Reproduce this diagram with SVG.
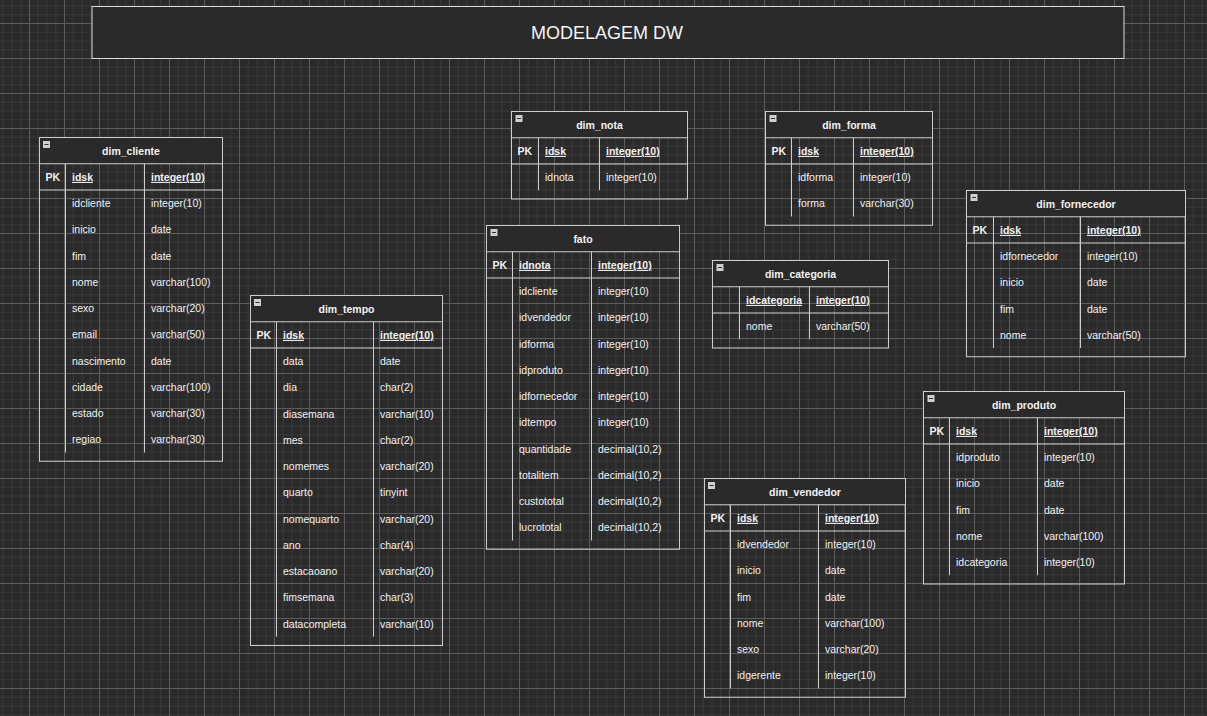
<svg xmlns="http://www.w3.org/2000/svg" width="1207" height="716" viewBox="0 0 1207 716">
<defs>
<pattern id="grid" patternUnits="userSpaceOnUse" x="29" y="23" width="35" height="35">
<rect width="35" height="35" fill="#2a2a2a"/>
<path d="M9.25 0V35M18 0V35M26.75 0V35M0 9.25H35M0 18H35M0 26.75H35" stroke="#383838" stroke-width="1" fill="none"/>
<path d="M0.5 0V35M0 0.5H35" stroke="#5c5c5c" stroke-width="1" fill="none"/>
</pattern>
<g id="ic"><rect x="0" y="0" width="7" height="7" fill="#d0d0d0"/><path d="M1.5 3.5H5.5" stroke="#333" stroke-width="1"/></g>
</defs>
<style>
.box{fill:none;stroke:#cdcdcd;stroke-width:1}
.ln{stroke:#cdcdcd;stroke-width:1;fill:none}
.hd{fill:#2a2a2a}
.t{font-family:"Liberation Sans",Arial,sans-serif;font-size:10.5px;fill:#f2f2f2}
.b{font-weight:bold}
.u{text-decoration:underline}
.ttl{font-weight:bold;text-anchor:middle}
.title{font-family:"Liberation Sans",Arial,sans-serif;font-size:18px;fill:#f4f4f4;text-anchor:middle}
</style>
<rect width="1207" height="716" fill="url(#grid)"/>

<g id="title">
<rect x="92" y="6.5" width="1032" height="52" fill="#2a2a2a" stroke="#dcdcdc" stroke-width="1"/>
<text class="title" x="607" y="38.5">MODELAGEM DW</text>
</g>

<g id="connectors"/>

<g id="dim_cliente">
<rect class="hd" x="39.5" y="137.5" width="183" height="26.25"/>
<rect class="box" x="39.5" y="137.5" width="183" height="323.75"/>
<path class="ln" d="M39.5 163.75H222.5M39.5 190H222.5M65.5 163.75V452.5M144.5 163.75V452.5"/>
<use href="#ic" x="43" y="141"/>
<text class="t ttl" x="131" y="154.6">dim_cliente</text>
<text class="t b" x="45.5" y="180.9">PK</text>
<text class="t b u" x="72" y="180.9">idsk</text>
<text class="t b u" x="151" y="180.9">integer(10)</text>
<text class="t" x="72" y="207">idcliente</text><text class="t" x="151" y="207">integer(10)</text>
<text class="t" x="72" y="233.25">inicio</text><text class="t" x="151" y="233.25">date</text>
<text class="t" x="72" y="259.5">fim</text><text class="t" x="151" y="259.5">date</text>
<text class="t" x="72" y="285.75">nome</text><text class="t" x="151" y="285.75">varchar(100)</text>
<text class="t" x="72" y="312">sexo</text><text class="t" x="151" y="312">varchar(20)</text>
<text class="t" x="72" y="338.25">email</text><text class="t" x="151" y="338.25">varchar(50)</text>
<text class="t" x="72" y="364.5">nascimento</text><text class="t" x="151" y="364.5">date</text>
<text class="t" x="72" y="390.75">cidade</text><text class="t" x="151" y="390.75">varchar(100)</text>
<text class="t" x="72" y="417">estado</text><text class="t" x="151" y="417">varchar(30)</text>
<text class="t" x="72" y="443.25">regiao</text><text class="t" x="151" y="443.25">varchar(30)</text>
</g>

<g id="dim_tempo">
<rect class="hd" x="250.5" y="295.5" width="192" height="26.25"/>
<rect class="box" x="250.5" y="295.5" width="192" height="350"/>
<path class="ln" d="M250.5 321.75H442.5M250.5 348H442.5M276.5 321.75V636.75M373.5 321.75V636.75"/>
<use href="#ic" x="254" y="299"/>
<text class="t ttl" x="346.5" y="312.6">dim_tempo</text>
<text class="t b" x="256.5" y="338.9">PK</text>
<text class="t b u" x="283" y="338.9">idsk</text>
<text class="t b u" x="380" y="338.9">integer(10)</text>
<text class="t" x="283" y="365">data</text><text class="t" x="380" y="365">date</text>
<text class="t" x="283" y="391.25">dia</text><text class="t" x="380" y="391.25">char(2)</text>
<text class="t" x="283" y="417.5">diasemana</text><text class="t" x="380" y="417.5">varchar(10)</text>
<text class="t" x="283" y="443.75">mes</text><text class="t" x="380" y="443.75">char(2)</text>
<text class="t" x="283" y="470">nomemes</text><text class="t" x="380" y="470">varchar(20)</text>
<text class="t" x="283" y="496.25">quarto</text><text class="t" x="380" y="496.25">tinyint</text>
<text class="t" x="283" y="522.5">nomequarto</text><text class="t" x="380" y="522.5">varchar(20)</text>
<text class="t" x="283" y="548.75">ano</text><text class="t" x="380" y="548.75">char(4)</text>
<text class="t" x="283" y="575">estacaoano</text><text class="t" x="380" y="575">varchar(20)</text>
<text class="t" x="283" y="601.25">fimsemana</text><text class="t" x="380" y="601.25">char(3)</text>
<text class="t" x="283" y="627.5">datacompleta</text><text class="t" x="380" y="627.5">varchar(10)</text>
</g>

<g id="dim_nota">
<rect class="hd" x="511.5" y="111.5" width="176" height="26.25"/>
<rect class="box" x="511.5" y="111.5" width="176" height="87.5"/>
<path class="ln" d="M511.5 137.75H687.5M511.5 164H687.5M538.5 137.75V190.25M599.5 137.75V190.25"/>
<use href="#ic" x="515.5" y="115"/>
<text class="t ttl" x="599.5" y="128.6">dim_nota</text>
<text class="t b" x="517.5" y="154.9">PK</text>
<text class="t b u" x="545" y="154.9">idsk</text>
<text class="t b u" x="606" y="154.9">integer(10)</text>
<text class="t" x="545" y="181">idnota</text><text class="t" x="606" y="181">integer(10)</text>
</g>

<g id="fato">
<rect class="hd" x="486.5" y="225.5" width="193" height="26.25"/>
<rect class="box" x="486.5" y="225.5" width="193" height="323.75"/>
<path class="ln" d="M486.5 251.75H679.5M486.5 278H679.5M512.5 251.75V540.5M591.5 251.75V540.5"/>
<use href="#ic" x="490.5" y="229"/>
<text class="t ttl" x="583" y="242.6">fato</text>
<text class="t b" x="492.5" y="268.9">PK</text>
<text class="t b u" x="519" y="268.9">idnota</text>
<text class="t b u" x="598" y="268.9">integer(10)</text>
<text class="t" x="519" y="295">idcliente</text><text class="t" x="598" y="295">integer(10)</text>
<text class="t" x="519" y="321.25">idvendedor</text><text class="t" x="598" y="321.25">integer(10)</text>
<text class="t" x="519" y="347.5">idforma</text><text class="t" x="598" y="347.5">integer(10)</text>
<text class="t" x="519" y="373.75">idproduto</text><text class="t" x="598" y="373.75">integer(10)</text>
<text class="t" x="519" y="400">idfornecedor</text><text class="t" x="598" y="400">integer(10)</text>
<text class="t" x="519" y="426.25">idtempo</text><text class="t" x="598" y="426.25">integer(10)</text>
<text class="t" x="519" y="452.5">quantidade</text><text class="t" x="598" y="452.5">decimal(10,2)</text>
<text class="t" x="519" y="478.75">totalitem</text><text class="t" x="598" y="478.75">decimal(10,2)</text>
<text class="t" x="519" y="505">custototal</text><text class="t" x="598" y="505">decimal(10,2)</text>
<text class="t" x="519" y="531.25">lucrototal</text><text class="t" x="598" y="531.25">decimal(10,2)</text>
</g>

<g id="dim_forma">
<rect class="hd" x="765.5" y="111.5" width="167" height="26.25"/>
<rect class="box" x="765.5" y="111.5" width="167" height="113.75"/>
<path class="ln" d="M765.5 137.75H932.5M765.5 164H932.5M791.5 137.75V216.5M853.5 137.75V216.5"/>
<use href="#ic" x="769.5" y="115"/>
<text class="t ttl" x="849" y="128.6">dim_forma</text>
<text class="t b" x="771.5" y="154.9">PK</text>
<text class="t b u" x="798" y="154.9">idsk</text>
<text class="t b u" x="860" y="154.9">integer(10)</text>
<text class="t" x="798" y="181">idforma</text><text class="t" x="860" y="181">integer(10)</text>
<text class="t" x="798" y="207.25">forma</text><text class="t" x="860" y="207.25">varchar(30)</text>
</g>

<g id="dim_categoria">
<rect class="hd" x="712.5" y="260.5" width="176" height="26.25"/>
<rect class="box" x="712.5" y="260.5" width="176" height="87.5"/>
<path class="ln" d="M712.5 286.75H888.5M712.5 313H888.5M739.5 286.75V339.25M809.5 286.75V339.25"/>
<use href="#ic" x="716.5" y="264"/>
<text class="t ttl" x="800.5" y="277.6">dim_categoria</text>
<text class="t b u" x="746" y="303.9">idcategoria</text>
<text class="t b u" x="816" y="303.9">integer(10)</text>
<text class="t" x="746" y="330">nome</text><text class="t" x="816" y="330">varchar(50)</text>
</g>

<g id="dim_fornecedor">
<rect class="hd" x="966.5" y="190.5" width="219" height="26.25"/>
<rect class="box" x="966.5" y="190.5" width="219" height="166.25"/>
<path class="ln" d="M966.5 216.75H1185.5M966.5 243H1185.5M993.5 216.75V348M1080.5 216.75V348"/>
<use href="#ic" x="970.5" y="194"/>
<text class="t ttl" x="1076" y="207.6">dim_fornecedor</text>
<text class="t b" x="972.5" y="233.9">PK</text>
<text class="t b u" x="1000" y="233.9">idsk</text>
<text class="t b u" x="1087" y="233.9">integer(10)</text>
<text class="t" x="1000" y="260">idfornecedor</text><text class="t" x="1087" y="260">integer(10)</text>
<text class="t" x="1000" y="286.25">inicio</text><text class="t" x="1087" y="286.25">date</text>
<text class="t" x="1000" y="312.5">fim</text><text class="t" x="1087" y="312.5">date</text>
<text class="t" x="1000" y="338.75">nome</text><text class="t" x="1087" y="338.75">varchar(50)</text>
</g>

<g id="dim_produto">
<rect class="hd" x="923.5" y="391.5" width="201" height="26.25"/>
<rect class="box" x="923.5" y="391.5" width="201" height="192.5"/>
<path class="ln" d="M923.5 417.75H1124.5M923.5 444H1124.5M949.5 417.75V575.25M1037.5 417.75V575.25"/>
<use href="#ic" x="927.5" y="395"/>
<text class="t ttl" x="1024" y="408.6">dim_produto</text>
<text class="t b" x="929.5" y="434.9">PK</text>
<text class="t b u" x="956" y="434.9">idsk</text>
<text class="t b u" x="1044" y="434.9">integer(10)</text>
<text class="t" x="956" y="461">idproduto</text><text class="t" x="1044" y="461">integer(10)</text>
<text class="t" x="956" y="487.25">inicio</text><text class="t" x="1044" y="487.25">date</text>
<text class="t" x="956" y="513.5">fim</text><text class="t" x="1044" y="513.5">date</text>
<text class="t" x="956" y="539.75">nome</text><text class="t" x="1044" y="539.75">varchar(100)</text>
<text class="t" x="956" y="566">idcategoria</text><text class="t" x="1044" y="566">integer(10)</text>
</g>

<g id="dim_vendedor">
<rect class="hd" x="704.5" y="478.5" width="201" height="26.25"/>
<rect class="box" x="704.5" y="478.5" width="201" height="218.75"/>
<path class="ln" d="M704.5 504.75H905.5M704.5 531H905.5M730.5 504.75V688.5M818.5 504.75V688.5"/>
<use href="#ic" x="708" y="482"/>
<text class="t ttl" x="805" y="495.6">dim_vendedor</text>
<text class="t b" x="710.5" y="521.9">PK</text>
<text class="t b u" x="737" y="521.9">idsk</text>
<text class="t b u" x="825" y="521.9">integer(10)</text>
<text class="t" x="737" y="548">idvendedor</text><text class="t" x="825" y="548">integer(10)</text>
<text class="t" x="737" y="574.25">inicio</text><text class="t" x="825" y="574.25">date</text>
<text class="t" x="737" y="600.5">fim</text><text class="t" x="825" y="600.5">date</text>
<text class="t" x="737" y="626.75">nome</text><text class="t" x="825" y="626.75">varchar(100)</text>
<text class="t" x="737" y="653">sexo</text><text class="t" x="825" y="653">varchar(20)</text>
<text class="t" x="737" y="679.25">idgerente</text><text class="t" x="825" y="679.25">integer(10)</text>
</g>
</svg>
